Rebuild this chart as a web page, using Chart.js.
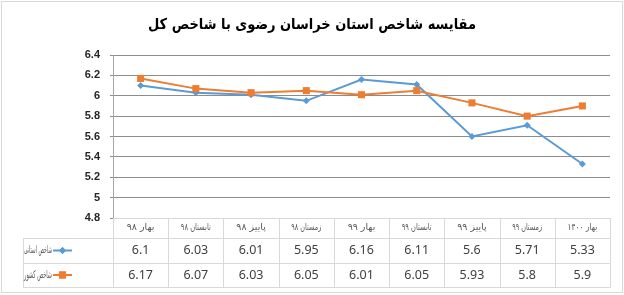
<!DOCTYPE html>
<html>
<head>
<meta charset="utf-8">
<script src="https://cdn.jsdelivr.net/npm/chart.js@4.4.1/dist/chart.umd.min.js"></script>
<style>
  body { margin: 0; background: #fff; }
  canvas { display: block; }
</style>
</head>
<body>
<canvas id="chart" width="624" height="295"></canvas>
<script>
const titleText = 'مقایسه شاخص استان خراسان رضوی با شاخص کل'
const seasons = ['بهار ۹۸', 'تابستان ۹۸', 'پاییز ۹۸', 'زمستان ۹۸', 'بهار ۹۹', 'تابستان ۹۹', 'پاییز ۹۹', 'زمستان ۹۹', 'بهار ۱۴۰۰']
const provinceName = 'شاخص استانی'
const provinceIndex = [6.1, 6.03, 6.01, 5.95, 6.16, 6.11, 5.6, 5.71, 5.33]
const countryName = 'شاخص کشور'
const countryIndex = [6.17, 6.07, 6.03, 6.05, 6.01, 6.05, 5.93, 5.8, 5.9]
const yMin = 4.8
const yMax = 6.4
const yStep = 0.2

const blue = '#5b9bd5'
const orange = '#ed7d31'
const faFont = '"DejaVu Sans", sans-serif'

// the Persian font on the box is much wider than the original one,
// so squeeze a label horizontally when it is wider than maxW
const fitText = (c, text, x, y, maxW, align) => {
  const tw = c.measureText(text).width
  const k = tw > maxW ? maxW / tw : 1
  c.save()
  c.translate(x, y)
  c.scale(k, 1)
  c.textAlign = align
  c.fillText(text, 0, 0)
  c.restore()
}

// title + outer frame
const framePlugin = {
  id: 'frame',
  beforeDraw(chart) {
    const c = chart.ctx
    c.save()
    c.fillStyle = '#fff'
    c.fillRect(0, 0, chart.width, chart.height)
    c.strokeStyle = '#d9d9d9'
    c.lineWidth = 1
    c.strokeRect(1.5, 1.5, chart.width - 3, chart.height - 4)
    c.fillStyle = '#000'
    c.font = 'bold 15px ' + faFont
    c.textBaseline = 'middle'
    c.direction = 'rtl'
    fitText(c, titleText, chart.width / 2, 25, 328, 'center')
    c.restore()
  }
}

// data table under the plot, columns follow the x scale
const tablePlugin = {
  id: 'dataTable',
  afterDraw(chart) {
    const c = chart.ctx
    const x = chart.scales.x
    const area = chart.chartArea
    const n = seasons.length
    const w = area.width / n
    const top = area.bottom
    const headBottom = top + 20
    const row1Bottom = headBottom + 25
    const row2Bottom = row1Bottom + 24
    const labelLeft = 23

    c.save()
    c.strokeStyle = '#d9d9d9'
    c.lineWidth = 1
    c.beginPath()
    for (let i = 0; i <= n; i++) {
      const bx = Math.round(area.left + i * w) + 0.5
      c.moveTo(bx, top)
      c.lineTo(bx, row2Bottom)
    }
    c.moveTo(labelLeft + 0.5, headBottom)
    c.lineTo(labelLeft + 0.5, row2Bottom)
    ;[headBottom, row1Bottom, row2Bottom].forEach(y => {
      c.moveTo(labelLeft, y + 0.5)
      c.lineTo(area.right + 1, y + 0.5)
    })
    c.stroke()

    c.textBaseline = 'middle'
    c.fillStyle = '#595959'
    c.font = '9.5px ' + faFont
    c.direction = 'rtl'
    seasons.forEach((s, i) => {
      fitText(c, s, x.getPixelForValue(i), top + 10, 30, 'center')
    })

    const rows = [
      { name: provinceName, values: provinceIndex, color: blue, style: 'rectRot', r: 3.5, y: headBottom + 12.5 },
      { name: countryName, values: countryIndex, color: orange, style: 'rect', r: 5, y: row1Bottom + 12 }
    ]
    rows.forEach(row => {
      c.direction = 'ltr'
      c.textAlign = 'center'
      c.fillStyle = '#404040'
      c.font = '12.5px "Noto Sans", sans-serif'
      row.values.forEach((v, i) => {
        c.fillText(String(v), x.getPixelForValue(i), row.y)
      })
      // legend key
      c.strokeStyle = row.color
      c.lineWidth = 2
      c.beginPath()
      c.moveTo(53, row.y)
      c.lineTo(72, row.y)
      c.stroke()
      c.fillStyle = row.color
      Chart.helpers.drawPoint(c, { pointStyle: row.style, radius: row.r, borderWidth: 0 }, 62.5, row.y)
      c.fill()
      c.fillStyle = '#595959'
      c.font = '10.5px ' + faFont
      c.direction = 'rtl'
      fitText(c, row.name, 52, row.y, 28, 'right')
    })
    c.restore()
  }
}

const ctx = document.getElementById('chart').getContext('2d')

const myChart = new Chart(ctx, {
  type: 'line',
  data: {
    labels: seasons,
    datasets: [{
      label: provinceName,
      data: provinceIndex,
      borderColor: blue,
      backgroundColor: blue,
      borderWidth: 2,
      pointStyle: 'rectRot',
      pointRadius: 3.5,
      pointBorderWidth: 0,
      order: 1
    },
    {
      label: countryName,
      data: countryIndex,
      borderColor: orange,
      backgroundColor: orange,
      borderWidth: 2,
      pointStyle: 'rect',
      pointRadius: 5,
      pointBorderWidth: 0,
      order: 0
    }]
  },
  options: {
    responsive: false,
    animation: false,
    devicePixelRatio: 1,
    layout: { padding: { top: 55, bottom: 77, right: 14, left: 0 } },
    scales: {
      x: { display: false, offset: true },
      y: {
        min: yMin,
        max: yMax,
        afterFit(scale) { scale.width = 113 },
        ticks: {
          stepSize: yStep,
          padding: 10,
          color: '#262626',
          font: { family: '"Liberation Sans", sans-serif', size: 11, weight: 'bold' },
          callback: v => String(+v.toFixed(1))
        },
        grid: {
          color: c => Math.abs(c.tick.value - yMin) < 1e-6 ? '#d9d9d9' : '#8c8c8c',
          tickColor: '#8c8c8c',
          tickLength: 3
        },
        border: { color: '#a6a6a6' }
      }
    },
    plugins: {
      legend: { display: false },
      tooltip: { enabled: false }
    }
  },
  plugins: [framePlugin, tablePlugin]
})
</script>
</body>
</html>
